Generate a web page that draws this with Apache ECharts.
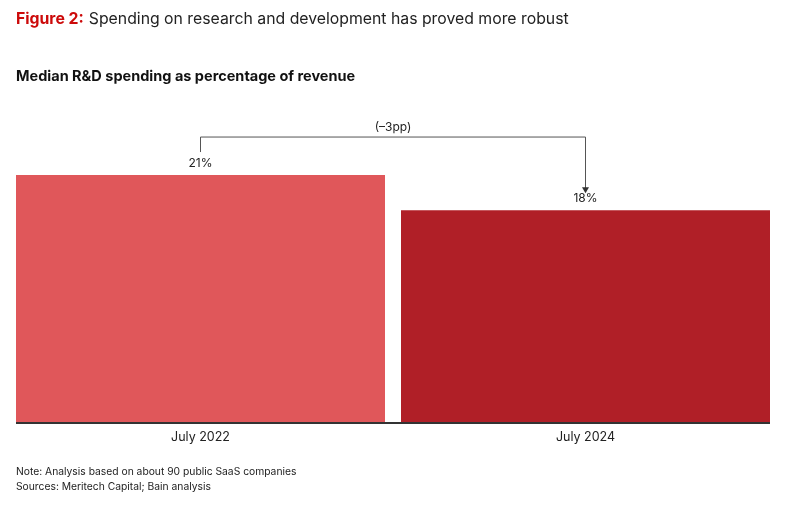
<!DOCTYPE html>
<html>
<head>
<meta charset="utf-8">
<script src="https://cdn.jsdelivr.net/npm/echarts@6/dist/echarts.min.js"></script>
<style>html,body{margin:0;padding:0;background:#fff;}#c{width:789px;height:512px;}</style>
</head>
<body>
<div id="c"></div>
<script>
var categories = ['July 2022', 'July 2024'];
var values = [21, 18];
var barColors = ['#e0575a', '#b01f27'];
var changeLabel = '(\u20133pp)';
var titleLead = 'Figure 2:';
var titleText = 'Spending on research and development has proved more robust';
var subtitleText = 'Median R&D spending as percentage of revenue';
var notes = ['Note: Analysis based on about 90 public SaaS companies', 'Sources: Meritech Capital; Bain analysis'];

var FONT = 'Inter, Roboto, sans-serif';
var BAR_W = 369;
var chart = echarts.init(document.getElementById('c'));
var option = {
  animation: false,
  backgroundColor: '#fff',
  title: [{
    left: 16, top: 10, padding: 0,
    text: '{a|' + titleLead + '} {b|' + titleText + '}',
    textStyle: { rich: {
      a: { fontFamily: FONT, fontSize: 15.8, fontWeight: 'bold', color: '#cc0a0a' },
      b: { fontFamily: FONT, fontSize: 15.8, fontWeight: 'normal', color: '#222' }
    } }
  }, {
    left: 16, top: 69, padding: 0,
    text: subtitleText,
    textStyle: { fontFamily: FONT, fontSize: 14.5, fontWeight: 'bold', color: '#111' }
  }, {
    left: 16, top: 464, padding: 0,
    text: notes.join('\n'),
    textStyle: { fontFamily: FONT, fontSize: 10.3, fontWeight: 'normal', color: '#222', lineHeight: 15 }
  }],
  grid: { left: 8, right: 11, top: 128, bottom: 90 },
  xAxis: {
    type: 'category', data: categories,
    axisLine: { show: false }, axisTick: { show: false },
    axisLabel: { fontFamily: FONT, fontSize: 12.5, color: '#222', margin: 9 }
  },
  yAxis: { type: 'value', min: 0, max: 25, show: false, splitLine: { show: false } },
  series: [{
    type: 'bar', barWidth: BAR_W,
    data: values.map(function (v, i) { return { value: v, itemStyle: { color: barColors[i] } }; }),
    label: { show: true, position: 'top', distance: 6, formatter: '{c}%', fontFamily: FONT, fontSize: 12, color: '#222' }
  }]
};
chart.setOption(option);

var p1 = chart.convertToPixel({ xAxisIndex: 0, yAxisIndex: 0 }, [categories[0], values[0]]);
var p2 = chart.convertToPixel({ xAxisIndex: 0, yAxisIndex: 0 }, [categories[1], values[1]]);
var base = chart.convertToPixel({ xAxisIndex: 0, yAxisIndex: 0 }, [categories[0], 0]);
var topY = p1[1] - 38;
var arrowTip = p2[1] - 17;
chart.setOption({
  graphic: [
    { type: 'line', shape: { x1: p1[0] - BAR_W / 2, y1: base[1] + 1, x2: p2[0] + BAR_W / 2, y2: base[1] + 1 }, style: { stroke: '#333', lineWidth: 2 } },
    { type: 'polyline', shape: { points: [[p1[0], p1[1] - 23], [p1[0], topY], [p2[0], topY], [p2[0], arrowTip - 4]] }, style: { stroke: '#555', lineWidth: 1, fill: null } },
    { type: 'polygon', shape: { points: [[p2[0] - 3.5, arrowTip - 6], [p2[0] + 3.5, arrowTip - 6], [p2[0], arrowTip]] }, style: { fill: '#333' } },
    { type: 'text', x: (p1[0] + p2[0]) / 2, y: topY - 10, style: { text: changeLabel, fontFamily: FONT, fontSize: 12, fill: '#222', align: 'center', verticalAlign: 'middle' } }
  ]
});
</script>
</body>
</html>
